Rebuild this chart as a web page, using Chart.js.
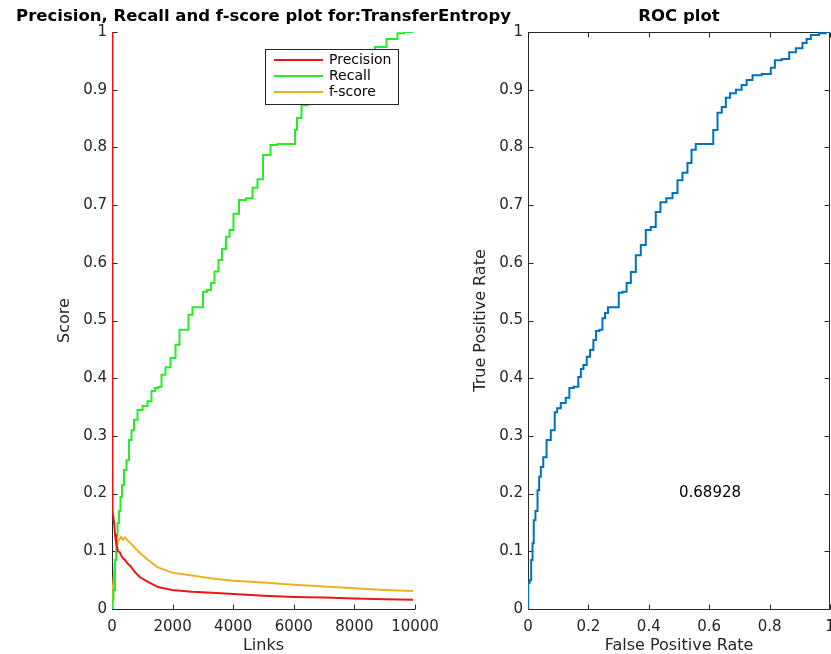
<!DOCTYPE html>
<html>
<head>
<meta charset="utf-8">
<script src="https://cdn.jsdelivr.net/npm/chart.js@4.4.0/dist/chart.umd.min.js"></script>
<style>
    html, body { margin: 0; padding: 0; background: #fff; }
    #wrap { position: relative; width: 831px; height: 654px; overflow: hidden; }
    #wrap canvas { position: absolute; left: 0; top: 0; }
</style>
</head>
<body>
<div id="wrap">
    <canvas id="prfChart" width="831" height="654"></canvas>
    <canvas id="rocChart" width="831" height="654"></canvas>
</div>
<script>
    // == DATA ==
    // recall vs number of predicted links
    const recallLinks = [0, 33, 66, 132, 165, 198, 264, 297, 363, 429,
        528, 594, 693, 759, 924, 1089, 1254, 1353, 1485, 1584,
        1683, 1848, 2013, 2178, 2277, 2508, 2541, 2772, 2970, 3036,
        3234, 3300, 3465, 3564, 3696, 3828, 3927, 4092, 4290, 4554,
        4719, 4884, 5082, 5380, 5545, 6007, 6073, 6139, 6370, 6535,
        6799, 7030, 7195, 7525, 7855, 8185, 8515, 8845, 9274, 9571,
        9703, 9934];
    const recall = [0, 0.016, 0.033, 0.085, 0.128, 0.149, 0.17, 0.194, 0.215, 0.241,
        0.258, 0.293, 0.31, 0.328, 0.345, 0.352, 0.36, 0.378, 0.383, 0.385,
        0.406, 0.419, 0.435, 0.458, 0.484, 0.484, 0.51, 0.523, 0.523, 0.55,
        0.553, 0.565, 0.585, 0.605, 0.624, 0.645, 0.657, 0.685, 0.709, 0.712,
        0.73, 0.745, 0.787, 0.804, 0.806, 0.806, 0.83, 0.851, 0.873, 0.896,
        0.9, 0.906, 0.925, 0.934, 0.945, 0.953, 0.965, 0.974, 0.988, 0.998,
        1, 1];

    // precision and f-score vs number of predicted links
    const scoreLinks = [0, 5, 15, 33, 66, 100, 132, 198, 264, 297,
        363, 429, 528, 594, 759, 924, 1188, 1518, 1980, 2640,
        3300, 4000, 5000, 6000, 7000, 8000, 9000, 9934];
    const precision = [1, 0.4, 0.18, 0.17, 0.15, 0.13, 0.115, 0.1, 0.098, 0.093,
        0.088, 0.085, 0.078, 0.075, 0.064, 0.055, 0.047, 0.038, 0.033, 0.03,
        0.028, 0.026, 0.023, 0.021, 0.02, 0.018, 0.017, 0.016];
    const fscore = [0, 0.005, 0.015, 0.03, 0.06, 0.085, 0.1, 0.118, 0.122, 0.125,
        0.12, 0.124, 0.118, 0.115, 0.106, 0.097, 0.085, 0.072, 0.063, 0.058,
        0.053, 0.049, 0.046, 0.042, 0.039, 0.036, 0.033, 0.031];

    // ROC curve
    const fpr = [0, 0.001, 0.009, 0.012, 0.018, 0.020, 0.029, 0.034, 0.040, 0.045,
        0.056, 0.067, 0.084, 0.093, 0.100, 0.117, 0.133, 0.141, 0.161, 0.172,
        0.178, 0.189, 0.200, 0.211, 0.222, 0.229, 0.244, 0.249, 0.261, 0.269,
        0.296, 0.305, 0.321, 0.332, 0.349, 0.365, 0.382, 0.398, 0.415, 0.431,
        0.446, 0.470, 0.487, 0.503, 0.520, 0.536, 0.547, 0.564, 0.608, 0.619,
        0.636, 0.647, 0.663, 0.675, 0.702, 0.713, 0.735, 0.752, 0.796, 0.812,
        0.823, 0.857, 0.873, 0.901, 0.917, 0.928, 0.945, 0.983, 0.989, 1.0];
    const tpr = [0, 0.045, 0.05, 0.085, 0.114, 0.154, 0.17, 0.206, 0.229, 0.246,
        0.263, 0.293, 0.31, 0.341, 0.348, 0.357, 0.366, 0.383, 0.385, 0.402,
        0.416, 0.423, 0.437, 0.449, 0.466, 0.482, 0.484, 0.504, 0.513, 0.523,
        0.523, 0.548, 0.55, 0.565, 0.584, 0.613, 0.631, 0.657, 0.662, 0.688,
        0.705, 0.712, 0.721, 0.743, 0.756, 0.773, 0.796, 0.806, 0.806, 0.83,
        0.86, 0.87, 0.886, 0.894, 0.9, 0.908, 0.917, 0.925, 0.927, 0.938,
        0.951, 0.953, 0.965, 0.972, 0.981, 0.988, 0.995, 0.998, 1.0, 1.0];
    const aucText = '0.68928';

    const scoreTicks = [0, 0.1, 0.2, 0.3, 0.4, 0.5, 0.6, 0.7, 0.8, 0.9, 1];
    const linkTicks = [0, 2000, 4000, 6000, 8000, 10000];
    const rateTicks = [0, 0.2, 0.4, 0.6, 0.8, 1];

    //----------------------------------------------------------------------
    const AXIS_COLOR = '#262626';
    const FONT = 'DejaVu Sans';
    const TICK_LEN = 5;
    const W = 831, H = 654;

    function xy(xs, ys) {
        return xs.map((x, i) => ({ x: x, y: ys[i] }));
    }

    // khung trục kiểu matlab: vạch chia hướng vào trong
    const frame = {
        id: 'frame',
        beforeDatasetsDraw(chart, args, opts) {
            const { ctx, chartArea: a, scales: { x, y } } = chart;
            ctx.save();
            ctx.strokeStyle = AXIS_COLOR;
            ctx.lineWidth = 1;
            ctx.beginPath();
            const L = Math.round(a.left) + 0.5, B = Math.round(a.bottom) + 0.5;
            const R = Math.round(a.right) - 0.5, T = Math.round(a.top) + 0.5;
            ctx.moveTo(L, T - 0.5); ctx.lineTo(L, B); ctx.lineTo(R + 0.5, B);
            if (opts.box) {
                ctx.moveTo(L, T); ctx.lineTo(R, T); ctx.lineTo(R, B);
            }
            x.ticks.forEach(t => {
                const px = Math.round(x.getPixelForValue(t.value)) + 0.5;
                ctx.moveTo(px, B); ctx.lineTo(px, B - TICK_LEN);
                if (opts.box) { ctx.moveTo(px, T); ctx.lineTo(px, T + TICK_LEN); }
            });
            y.ticks.forEach(t => {
                const py = Math.round(y.getPixelForValue(t.value)) + 0.5;
                ctx.moveTo(L, py); ctx.lineTo(L + TICK_LEN, py);
                if (opts.box) { ctx.moveTo(R, py); ctx.lineTo(R - TICK_LEN, py); }
            });
            ctx.stroke();
            ctx.restore();
        },
        afterDraw(chart, args, opts) {
            const { ctx, chartArea: a, scales: { x, y } } = chart;
            const cx = (a.left + a.right) / 2;
            ctx.save();
            ctx.textAlign = 'center';
            ctx.textBaseline = 'middle';
            ctx.fillStyle = '#000';
            ctx.font = 'bold 16.5px "' + FONT + '"';
            ctx.fillText(opts.title, cx, 17);
            ctx.fillStyle = AXIS_COLOR;
            ctx.font = '16px "' + FONT + '"';
            ctx.fillText(opts.xLabel, cx, 646);
            ctx.save();
            ctx.translate(opts.yLabelX, (a.top + a.bottom) / 2);
            ctx.rotate(-Math.PI / 2);
            ctx.fillText(opts.yLabel, 0, 0);
            ctx.restore();
            if (opts.note) {
                ctx.fillStyle = '#000';
                ctx.font = '15px "' + FONT + '"';
                ctx.textAlign = 'left';
                ctx.fillText(opts.note.text, x.getPixelForValue(opts.note.x), y.getPixelForValue(opts.note.y));
            }
            ctx.restore();
        }
    };

    // chú thích trong vùng vẽ, nền trắng có viền
    const boxLegend = {
        id: 'boxLegend',
        afterDatasetsDraw(chart, args, opts) {
            if (!opts.display) return;
            const ctx = chart.ctx;
            const b = opts.box;
            ctx.save();
            ctx.fillStyle = '#fff';
            ctx.fillRect(b.left, b.top, b.width, b.height);
            ctx.strokeStyle = AXIS_COLOR;
            ctx.lineWidth = 1;
            ctx.strokeRect(b.left + 0.5, b.top + 0.5, b.width, b.height);
            ctx.font = '14px "' + FONT + '"';
            ctx.textBaseline = 'middle';
            chart.data.datasets.forEach((ds, i) => {
                const yy = b.top + 11 + i * 16;
                ctx.strokeStyle = ds.borderColor;
                ctx.lineWidth = 2;
                ctx.beginPath();
                ctx.moveTo(b.left + 9, yy); ctx.lineTo(b.left + 58, yy);
                ctx.stroke();
                ctx.fillStyle = '#000';
                ctx.fillText(ds.label, b.left + 64, yy);
            });
            ctx.restore();
        }
    };

    function scaleOpts(min, max, tickValues, fit, fmt, pad) {
        return {
            type: 'linear', min: min, max: max,
            afterFit: fit,
            afterBuildTicks: s => { s.ticks = tickValues.map(v => ({ value: v })); },
            ticks: {
                color: AXIS_COLOR,
                font: { family: FONT, size: 15 },
                padding: pad,
                maxRotation: 0,
                autoSkip: false,
                callback: fmt
            },
            grid: { display: false, drawTicks: false },
            border: { display: false }
        };
    }

    const plain = v => String(Math.round(v * 10) / 10);
    // trục x: cố định chiều cao, bỏ phần đệm cho nhãn ở hai đầu
    const xFit = s => { s.height = H - 609; s.paddingLeft = 0; s.paddingRight = 0; };

    // == BIỂU ĐỒ PRECISION / RECALL / F-SCORE ==
    new Chart(document.getElementById('prfChart'), {
        type: 'line',
        data: {
            datasets: [{
                label: 'Precision',
                data: xy(scoreLinks, precision),
                borderColor: '#ef1515',
                borderWidth: 2,
                pointRadius: 0
            }, {
                label: 'Recall',
                data: xy(recallLinks, recall),
                borderColor: '#28ea28',
                borderWidth: 2,
                pointRadius: 0,
                stepped: 'middle'
            }, {
                label: 'f-score',
                data: xy(scoreLinks, fscore),
                borderColor: '#edb120',
                borderWidth: 2,
                pointRadius: 0
            }]
        },
        options: {
            responsive: false,
            animation: false,
            devicePixelRatio: 1,
            layout: { padding: { left: 0, top: 32, right: W - 415, bottom: 0 } },
            scales: {
                x: scaleOpts(0, 10000, linkTicks, xFit, v => String(v), 9),
                y: scaleOpts(0, 1, scoreTicks, s => { s.width = 112; }, plain, 5)
            },
            plugins: {
                legend: { display: false },
                tooltip: { enabled: false },
                frame: {
                    box: false,
                    title: 'Precision, Recall and f-score plot for:TransferEntropy',
                    xLabel: 'Links',
                    yLabel: 'Score',
                    yLabelX: 65
                },
                boxLegend: {
                    display: true,
                    box: { left: 265, top: 49, width: 133, height: 55 }
                }
            }
        },
        plugins: [frame, boxLegend]
    });

    // == BIỂU ĐỒ ROC ==
    new Chart(document.getElementById('rocChart'), {
        type: 'line',
        data: {
            datasets: [{
                label: 'ROC',
                data: xy(fpr, tpr),
                borderColor: '#0072bd',
                borderWidth: 2,
                pointRadius: 0,
                stepped: 'middle'
            }]
        },
        options: {
            responsive: false,
            animation: false,
            devicePixelRatio: 1,
            layout: { padding: { left: 0, top: 32, right: 1, bottom: 0 } },
            scales: {
                x: scaleOpts(0, 1, rateTicks, xFit, plain, 9),
                y: scaleOpts(0, 1, scoreTicks, s => { s.width = 528; }, plain, 5)
            },
            plugins: {
                legend: { display: false },
                tooltip: { enabled: false },
                frame: {
                    box: true,
                    title: 'ROC plot',
                    xLabel: 'False Positive Rate',
                    yLabel: 'True Positive Rate',
                    yLabelX: 481,
                    note: { text: aucText, x: 0.5, y: 0.2 }
                },
                boxLegend: { display: false }
            }
        },
        plugins: [frame, boxLegend]
    });
</script>
</body>
</html>
